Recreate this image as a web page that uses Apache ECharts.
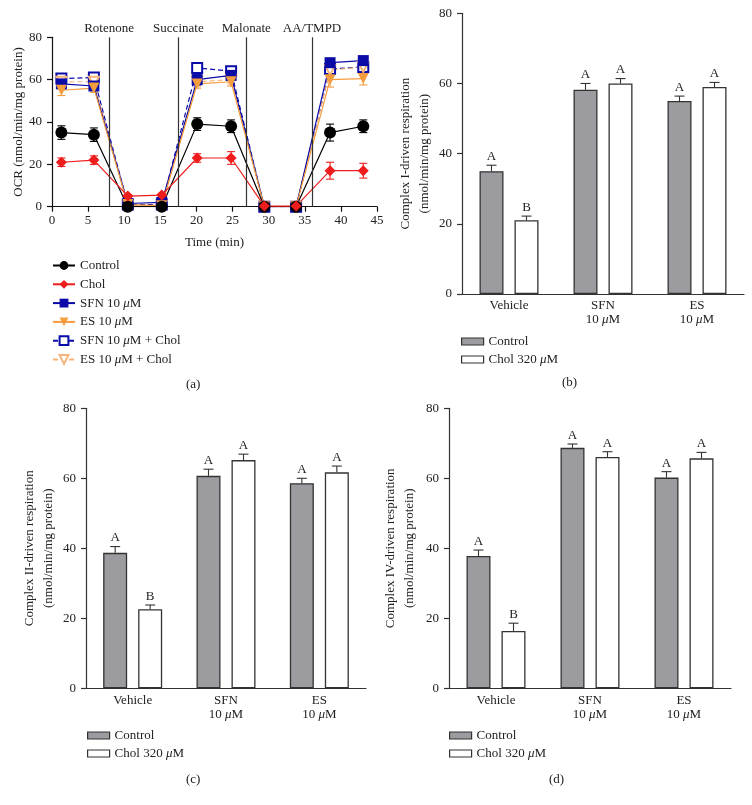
<!DOCTYPE html>
<html>
<head>
<meta charset="utf-8">
<script src="https://cdn.jsdelivr.net/npm/echarts@6/dist/echarts.min.js"></script>
<style>html,body{margin:0;padding:0;background:#fff;}#c{width:752px;height:805px;}</style>
</head>
<body>
<div id="c"></div>
<script>
// ---------- Panel (a): OCR time course ----------
const timeMin = [1.3, 5.8, 10.5, 15.2, 20.1, 24.8, 29.4, 33.8, 38.5, 43.1];
const ocrControl = [35, 34, 0, 0, 39, 38, 0, 0, 35, 38];
const ocrControlErr = [3.2, 3.2, 0.8, 0.8, 3, 3, 0.5, 0.5, 4, 3];
const ocrChol = [21, 22, 5, 5.5, 23, 23, 0.3, 0.3, 17, 17];
const ocrCholErr = [2, 2, 0.8, 0.8, 2, 3, 0.3, 0.3, 4, 3.5];
const ocrSFN = [58, 57, 1.5, 2, 60, 62, 0, 0, 68, 69];
const ocrSFNErr = [2, 2, 1, 1, 2.5, 2, 0.5, 0.5, 2, 1.5];
const ocrES = [55, 56, 1, 0.5, 58, 59, 0, 0, 60, 60.5];
const ocrESErr = [2.5, 2, 1, 0.5, 2, 2, 0.5, 0.5, 3.5, 3];
const ocrSFNChol = [60.5, 61, 1, 1, 65.5, 64, 0, 0, 65, 66];
const ocrSFNCholErr = [1.5, 1.5, 1, 1, 2, 2, 0.5, 0.5, 2, 2];
const ocrESChol = [59, 59, 0.5, 0.5, 59, 60, 0, 0, 64.5, 66];
const ocrESCholErr = [1.5, 1.5, 0.5, 0.5, 2, 2, 0.5, 0.5, 2, 2];
const injectionTimes = [7.9, 17.5, 26.9, 36.0];
const injectionLabels = ['Rotenone', 'Succinate', 'Malonate', 'AA/TMPD'];
const ocrTicksX = [0, 45, 5];
const ocrTicksY = [0, 80, 20];

// ---------- Panels (b)-(d): complex-driven respiration ----------
const groups = ['Vehicle', 'SFN\n10 μM', 'ES\n10 μM'];
const barSeriesNames = ['Control', 'Chol 320 μM'];
const c1Control = [35, 58.2, 55];
const c1ControlErr = [1.7, 1.8, 1.4];
const c1Chol = [21, 60, 59];
const c1CholErr = [1.2, 1.4, 1.3];
const c2Control = [38.7, 60.7, 58.6];
const c2ControlErr = [1.8, 1.9, 1.4];
const c2Chol = [22.6, 65.2, 61.7];
const c2CholErr = [1.2, 1.7, 1.8];
const c4Control = [37.8, 68.7, 60.2];
const c4ControlErr = [1.7, 1.1, 1.7];
const c4Chol = [16.4, 66.1, 65.7];
const c4CholErr = [2.2, 1.5, 1.7];
const sigControl = ['A', 'A', 'A'];
const sigChol = ['B', 'A', 'A'];
const barTicksY = [0, 80, 20];
const panelTags = ['(a)', '(b)', '(c)', '(d)'];

// ---------- styling ----------
const FONT = "'Liberation Serif', 'DejaVu Serif', serif";
const INK = '#222';
const AX = '#333';
const GRAY = '#9c9ca0';
const BAR_W = 24, BAR_GAP_PX = 11;
const richMu = { i: { fontStyle: 'italic', fontFamily: FONT, fontSize: 13, color: INK, lineHeight: 14 } };
const muFmt = s => s.replace('μ', '{i|μ}');

const chart = echarts.init(document.getElementById('c'), null, { renderer: 'canvas' });

function lineErr(xIdx, vals, errs, color) {
  return {
    type: 'custom', xAxisIndex: xIdx, yAxisIndex: xIdx, z: 3, silent: true,
    data: timeMin.map((t, i) => [t, vals[i], errs[i]]),
    renderItem: (params, api) => {
      const x = api.value(0), y = api.value(1), e = api.value(2);
      const p1 = api.coord([x, y + e]);
      const p2 = api.coord([x, Math.max(0, y - e)]);
      const cap = 4;
      const st = { stroke: color, lineWidth: 1.1 };
      return { type: 'group', children: [
        { type: 'line', shape: { x1: p1[0], y1: p1[1], x2: p2[0], y2: p2[1] }, style: st },
        { type: 'line', shape: { x1: p1[0] - cap, y1: p1[1], x2: p1[0] + cap, y2: p1[1] }, style: st },
        { type: 'line', shape: { x1: p2[0] - cap, y1: p2[1], x2: p2[0] + cap, y2: p2[1] }, style: st }
      ] };
    }
  };
}

function lineSeries(name, vals, color, symbol, size, dashed, rotate) {
  return {
    name: name, type: 'line', xAxisIndex: 0, yAxisIndex: 0, z: 4,
    data: timeMin.map((t, i) => [t, vals[i]]),
    symbol: symbol, symbolSize: size, symbolRotate: rotate || 0, showAllSymbol: true,
    lineStyle: { color: color, width: 1.2, type: dashed ? [5, 3] : 'solid' },
    itemStyle: { color: color, borderColor: color, borderWidth: dashed ? 1.3 : 0 }
  };
}

function barErr(idx, vals, errs, sig, side) {
  return {
    type: 'custom', xAxisIndex: idx, yAxisIndex: idx, z: 5, silent: true,
    data: vals.map((v, i) => [i, v, errs[i]]),
    renderItem: (params, api) => {
      const c = api.value(0), v = api.value(1), e = api.value(2);
      const letter = sig[params.dataIndex];
      const off = side * (BAR_W + BAR_GAP_PX) / 2;
      const pv = api.coord([c, v]);
      const pt = api.coord([c, v + e]);
      const x = pv[0] + off;
      const st = { stroke: AX, lineWidth: 1.1 };
      return { type: 'group', children: [
        { type: 'line', shape: { x1: x, y1: pv[1], x2: x, y2: pt[1] }, style: st },
        { type: 'line', shape: { x1: x - 5, y1: pt[1], x2: x + 5, y2: pt[1] }, style: st },
        { type: 'text', style: { x: x, y: pt[1] - 2, text: letter, align: 'center', verticalAlign: 'bottom',
          font: '13px ' + FONT, fill: INK } }
      ] };
    }
  };
}

function bars(idx, ctrl, chol) {
  return [
    { name: 'bar-' + barSeriesNames[0], type: 'bar', xAxisIndex: idx, yAxisIndex: idx, data: ctrl,
      barWidth: BAR_W, barGap: (BAR_GAP_PX / BAR_W * 100) + '%',
      itemStyle: { color: GRAY, borderColor: AX, borderWidth: 1.3 } },
    { name: 'bar-' + barSeriesNames[1], type: 'bar', xAxisIndex: idx, yAxisIndex: idx, data: chol,
      barWidth: BAR_W, barGap: (BAR_GAP_PX / BAR_W * 100) + '%',
      itemStyle: { color: '#ffffff', borderColor: AX, borderWidth: 1.3 } }
  ];
}

const tickLabel = { fontFamily: FONT, fontSize: 13, color: INK };
function valueY(idx, name, gap, marginL) {
  return {
    type: 'value', gridIndex: idx, min: barTicksY[0], max: barTicksY[1], interval: barTicksY[2],
    name: name, nameLocation: 'middle', nameGap: gap, nameRotate: 90,
    nameTextStyle: { fontFamily: FONT, fontSize: 13, color: INK, lineHeight: 19 },
    axisLine: { show: true, lineStyle: { color: AX, width: 1.2 } },
    axisTick: { show: true, length: 5, lineStyle: { color: AX, width: 1.2 } },
    axisLabel: Object.assign({ margin: marginL }, tickLabel),
    splitLine: { show: false }
  };
}
function catX(idx) {
  return {
    type: 'category', gridIndex: idx, data: groups,
    axisLine: { show: true, lineStyle: { color: AX, width: 1.2 } },
    axisTick: { show: false },
    axisLabel: { fontFamily: FONT, fontSize: 13, color: INK, lineHeight: 14, margin: 5,
      formatter: muFmt, rich: richMu },
    splitLine: { show: false }
  };
}
function barLegend(left, top) {
  return {
    data: [
      { name: 'bar-' + barSeriesNames[0], icon: 'rect', itemStyle: { color: GRAY, borderColor: AX, borderWidth: 1.2 } },
      { name: 'bar-' + barSeriesNames[1], icon: 'rect', itemStyle: { color: '#fff', borderColor: AX, borderWidth: 1.2 } }
    ],
    orient: 'vertical', left: left, top: top, padding: 0,
    itemWidth: 22, itemHeight: 7, itemGap: 5, selectedMode: false,
    textStyle: { fontFamily: FONT, fontSize: 13, color: INK, rich: richMu },
    formatter: n => muFmt(n.replace('bar-', ''))
  };
}

const lineNames = ['Control', 'Chol', 'SFN 10 μM', 'ES 10 μM', 'SFN 10 μM + Chol', 'ES 10 μM + Chol'];
const cRed = '#ee1c1c', cBlue = '#0b0ba8', cOrange = '#f59c3c', cOrangeL = '#f7b47a';

const option = {
  animation: false,
  backgroundColor: '#fff',
  textStyle: { fontFamily: FONT },
  grid: [
    { left: 52, top: 37.3, width: 325, height: 169.4 },
    { left: 462, top: 13.3, width: 282, height: 280.7 },
    { left: 86, top: 408.3, width: 280, height: 280 },
    { left: 449, top: 408.3, width: 282, height: 280 }
  ],
  xAxis: [
    { type: 'value', gridIndex: 0, min: ocrTicksX[0], max: ocrTicksX[1], interval: ocrTicksX[2],
      name: 'Time (min)', nameLocation: 'middle', nameGap: 29,
      nameTextStyle: { fontFamily: FONT, fontSize: 13, color: INK },
      axisLine: { show: true, lineStyle: { color: '#111', width: 1.2 } },
      axisTick: { show: true, length: 5, lineStyle: { color: '#111', width: 1.2 } },
      axisLabel: Object.assign({ margin: 7 }, tickLabel),
      splitLine: { show: false } },
    catX(1), catX(2), catX(3)
  ],
  yAxis: [
    { type: 'value', gridIndex: 0, min: ocrTicksY[0], max: ocrTicksY[1], interval: ocrTicksY[2],
      name: 'OCR (nmol/min/mg protein)', nameLocation: 'middle', nameGap: 27, nameRotate: 90,
      nameTextStyle: { fontFamily: FONT, fontSize: 13, color: INK },
      axisLine: { show: true, lineStyle: { color: '#111', width: 1.2 } },
      axisTick: { show: true, length: 5, lineStyle: { color: '#111', width: 1.2 } },
      axisLabel: Object.assign({ margin: 10 }, tickLabel),
      splitLine: { show: false } },
    valueY(1, 'Complex I-driven respiration\n(nmol/min/mg protein)', 28, 10),
    valueY(2, 'Complex II-driven respiration\n(nmol/min/mg protein)', 28, 10),
    valueY(3, 'Complex IV-driven respiration\n(nmol/min/mg protein)', 30, 10)
  ],
  legend: [
    { data: lineNames, orient: 'vertical', left: 52, top: 259, padding: 0,
      itemWidth: 22, itemHeight: 11, itemGap: 5.8,
      selectedMode: false,
      textStyle: { fontFamily: FONT, fontSize: 13, color: INK, rich: richMu }, formatter: muFmt },
    barLegend(461, 335),
    barLegend(449 - 362, 729),
    barLegend(449, 729)
  ],
  graphic: [
    { type: 'text', left: 186, top: 378, style: { text: panelTags[0], font: '13px ' + FONT, fill: INK } },
    { type: 'text', left: 562, top: 376, style: { text: panelTags[1], font: '13px ' + FONT, fill: INK } },
    { type: 'text', left: 186, top: 773, style: { text: panelTags[2], font: '13px ' + FONT, fill: INK } },
    { type: 'text', left: 549, top: 773, style: { text: panelTags[3], font: '13px ' + FONT, fill: INK } }
  ],
  series: [
    { type: 'line', xAxisIndex: 0, yAxisIndex: 0, data: [], silent: true,
      markLine: { silent: true, symbol: 'none', animation: false,
        lineStyle: { color: '#333', width: 1.2, type: 'solid' },
        label: { show: true, position: 'end', formatter: '{b}', distance: 2,
          fontFamily: FONT, fontSize: 13, color: INK },
        data: injectionTimes.map((t, i) => ({ xAxis: t, name: injectionLabels[i] })) } },
    lineErr(0, ocrSFNChol, ocrSFNCholErr, cBlue),
    lineErr(0, ocrESChol, ocrESCholErr, cOrangeL),
    lineErr(0, ocrSFN, ocrSFNErr, cBlue),
    lineErr(0, ocrES, ocrESErr, cOrange),
    lineErr(0, ocrControl, ocrControlErr, '#000'),
    lineErr(0, ocrChol, ocrCholErr, cRed),
    lineSeries(lineNames[4], ocrSFNChol, cBlue, 'emptyRect', 10, true),
    lineSeries(lineNames[5], ocrESChol, cOrangeL, 'emptyTriangle', 10, true, 180),
    lineSeries(lineNames[2], ocrSFN, cBlue, 'rect', 11, false),
    lineSeries(lineNames[3], ocrES, cOrange, 'triangle', 11, false, 180),
    lineSeries(lineNames[0], ocrControl, '#000', 'circle', 12, false),
    lineSeries(lineNames[1], ocrChol, cRed, 'diamond', 11, false),
    ...bars(1, c1Control, c1Chol),
    barErr(1, c1Control, c1ControlErr, sigControl, -1),
    barErr(1, c1Chol, c1CholErr, sigChol, 1),
    ...bars(2, c2Control, c2Chol),
    barErr(2, c2Control, c2ControlErr, sigControl, -1),
    barErr(2, c2Chol, c2CholErr, sigChol, 1),
    ...bars(3, c4Control, c4Chol),
    barErr(3, c4Control, c4ControlErr, sigControl, -1),
    barErr(3, c4Chol, c4CholErr, sigChol, 1)
  ]
};
chart.setOption(option);
</script>
</body>
</html>
